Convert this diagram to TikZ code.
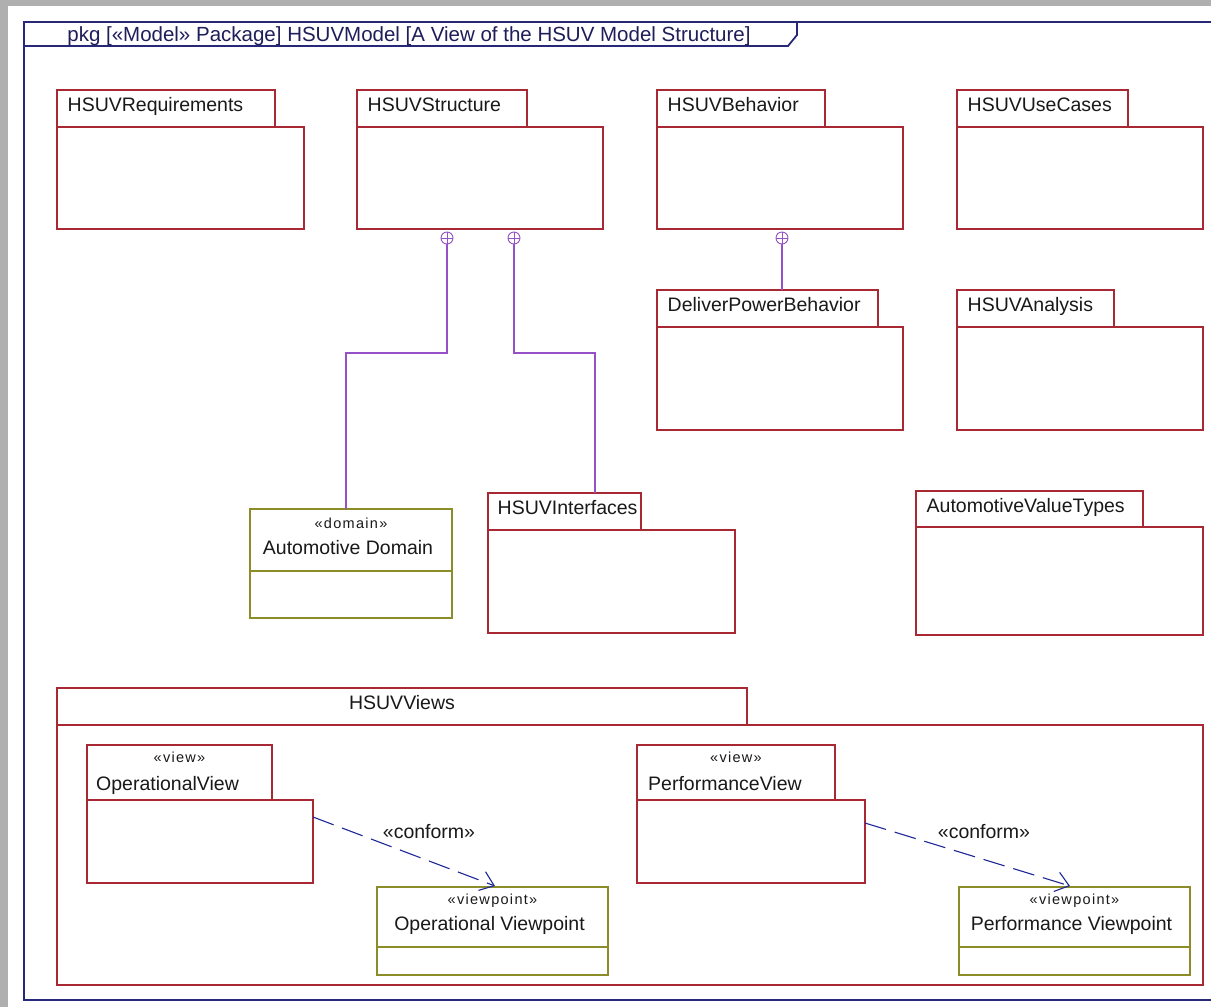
\documentclass[tikz,border=0pt]{standalone}
\usepackage{fontspec}
\setmainfont{Liberation Sans}
\newfontfamily\stereofont[LetterSpace=9]{Liberation Sans}
\usetikzlibrary{calc,arrows.meta}

\definecolor{pkgred}{RGB}{168,40,52}
\definecolor{classolive}{RGB}{140,140,40}
\definecolor{contpurple}{RGB}{150,80,200}
\definecolor{framenavy}{RGB}{40,40,120}
\definecolor{depblue}{RGB}{30,40,150}
\definecolor{titlenavy}{RGB}{30,30,90}
\definecolor{bandgray}{RGB}{175,175,175}

% package: tab + body, both anchored at their north-west corners
% #1 name, #2 left, #3 tab top, #4 tab right, #5 tab bottom, #6 body right, #7 body bottom
\newcommand\umlpkg[7]{%
  \node[pkgpart, minimum width={#4-#2}, minimum height={#5-#3}] (#1-tab) at (#2,#3) {};
  \node[pkgpart, minimum width={#6-#2}, minimum height={#7-#5}] (#1) at (#2,#5) {};
}
% class-like box with stereotype, name and one empty compartment
% #1 name, #2 left, #3 top, #4 right, #5 divider, #6 bottom, #7 stereotype, #8 label
\newcommand\umlclass[8]{%
  \node[classbox, minimum width={#4-#2}, minimum height={#6-#3}] (#1) at (#2,#3) {};
  \draw[classline] ($(#1.north west)+(0,#5-#3)$) -- ($(#1.north east)+(0,#5-#3)$);
  \node[stereo] (#1-stereo) at ($(#1.north)+(0,14)$) {«#7»};
  \node[namecentered] (#1-name) at ($(#1.north)+(-3,38.5)$) {#8};
}

\tikzset{
  pkgpart/.style={draw=pkgred, line width=1.3pt, fill=white, inner sep=0pt, outer sep=0pt, anchor=north west},
  classbox/.style={draw=classolive, line width=1.2pt, fill=white, inner sep=0pt, outer sep=0pt, anchor=north west},
  classline/.style={draw=classolive, line width=1.2pt},
  pkglabel/.style={anchor=base west, inner sep=0pt, text=black!90, font=\fontsize{19.5}{23}\selectfont},
  namecentered/.style={anchor=center, inner sep=0pt, text=black!90, font=\fontsize{19.5}{23}\selectfont},
  stereo/.style={anchor=center, inner sep=0pt, text=black!90, font=\stereofont\fontsize{14.5}{17}\selectfont},
  frameline/.style={draw=framenavy, line width=1.8pt},
  contain/.style={draw=contpurple, line width=1.1pt},
  cplus/.style={circle, draw=contpurple, line width=0.9pt, minimum size=12pt, inner sep=0pt, fill=white,
    path picture={\draw[contpurple, line width=0.9pt]
      (path picture bounding box.north) -- (path picture bounding box.south)
      (path picture bounding box.west) -- (path picture bounding box.east);}},
  conform/.style={draw=depblue, line width=1.1pt, dash pattern=on 22pt off 9pt,
    -{Straight Barb[length=13pt,width=20pt,line width=1.1pt]}},
  deplabel/.style={anchor=center, inner sep=0pt, text=black!90, font=\fontsize{19.5}{23}\selectfont}
}

\begin{document}
\begin{tikzpicture}[x=1pt,y=-1pt]
\useasboundingbox (0,0) rectangle (1211,1007);
\fill[white] (0,0) rectangle (1211,1007);
\fill[bandgray] (0,0) rectangle (1211,6);
\fill[bandgray] (0,0) rectangle (8,1007);

% diagram frame with its name tab
\draw[frameline] (1216,22) -- (24,22) -- (24,1000) -- (1216,1000);
\draw[frameline] (24,46) -- (788,46) -- (797,35) -- (797,22);
\node[anchor=base, inner sep=0pt, text=titlenavy, font=\fontsize{20.5}{24}\selectfont] (title)
  at (409,41) {pkg [«Model» Package] HSUVModel [A View of the HSUV Model Structure]};

% top row of packages
\umlpkg{req}{57}{90}{275}{127}{304}{229}
\node[pkglabel] (req-label) at ($(req-tab.north west)+(10.5,21.5)$) {HSUVRequirements};
\umlpkg{str}{357}{90}{527}{127}{603}{229}
\node[pkglabel] (str-label) at ($(str-tab.north west)+(10.5,21.5)$) {HSUVStructure};
\umlpkg{beh}{657}{90}{825}{127}{903}{229}
\node[pkglabel] (beh-label) at ($(beh-tab.north west)+(10.5,21.5)$) {HSUVBehavior};
\umlpkg{uc}{957}{90}{1128}{127}{1203}{229}
\node[pkglabel] (uc-label) at ($(uc-tab.north west)+(10.5,21.5)$) {HSUVUseCases};

% second row
\umlpkg{dpb}{657}{290}{878}{327}{903}{430}
\node[pkglabel] (dpb-label) at ($(dpb-tab.north west)+(10.5,21.5)$) {DeliverPowerBehavior};
\umlpkg{ana}{957}{290}{1114}{327}{1203}{430}
\node[pkglabel] (ana-label) at ($(ana-tab.north west)+(10.5,21.5)$) {HSUVAnalysis};

% third row
\umlclass{dom}{250}{509}{452}{571}{618}{domain}{Automotive Domain}
\umlpkg{intf}{488}{493}{641}{530}{735}{633}
\node[pkglabel] (intf-label) at ($(intf-tab.north west)+(9.5,21.5)$) {HSUVInterfaces};
\umlpkg{avt}{916}{491}{1143}{527}{1203}{635}
\node[pkglabel] (avt-label) at ($(avt-tab.north west)+(10.5,21.5)$) {AutomotiveValueTypes};

% views package with its nested views and viewpoints
\umlpkg{views}{57}{688}{747}{725}{1203}{985}
\node[pkglabel, anchor=base] (views-label) at ($(views-tab.north)+(0,21.5)$) {HSUVViews};

\umlpkg{opv}{87}{745}{272}{800}{313}{883}
\node[stereo] (opv-stereo) at ($(opv-tab.north)+(0,12)$) {«view»};
\node[pkglabel] (opv-label) at ($(opv-tab.north west)+(9,45)$) {OperationalView};
\umlpkg{pfv}{637}{745}{835}{800}{865}{883}
\node[stereo] (pfv-stereo) at ($(pfv-tab.north)+(0,12)$) {«view»};
\node[pkglabel] (pfv-label) at ($(pfv-tab.north west)+(11,45)$) {PerformanceView};

\umlclass{opvp}{377}{887}{608}{947}{975}{viewpoint}{Operational Viewpoint}
\umlclass{pfvp}{959}{887}{1190}{947}{975}{viewpoint}{Performance Viewpoint}

% conform dependencies
\draw[conform] ($(opv.north east)+(0,17)$) -- ($(opvp.north west)+(118,-1)$);
\node[deplabel] (opv-conform) at (429,832) {«conform»};
\draw[conform] ($(pfv.north east)+(0,23)$) -- ($(pfvp.north west)+(111,-1)$);
\node[deplabel] (pfv-conform) at (984,832) {«conform»};

% containment connectors
\node[cplus] (c1) at ($(str.south west)+(90,9)$) {};
\node[cplus] (c2) at ($(str.south west)+(157,9)$) {};
\node[cplus] (c3) at ($(beh.south west)+(125,9)$) {};
\draw[contain] (c1.south) -- (c1.south |- 0,353) -| ($(dom.north west)+(96,0)$);
\draw[contain] (c2.south) -- (c2.south |- 0,353) -| ($(intf-tab.north west)+(107,0)$);
\draw[contain] (c3.south) -- (c3.south |- dpb-tab.north);
\end{tikzpicture}
\end{document}
